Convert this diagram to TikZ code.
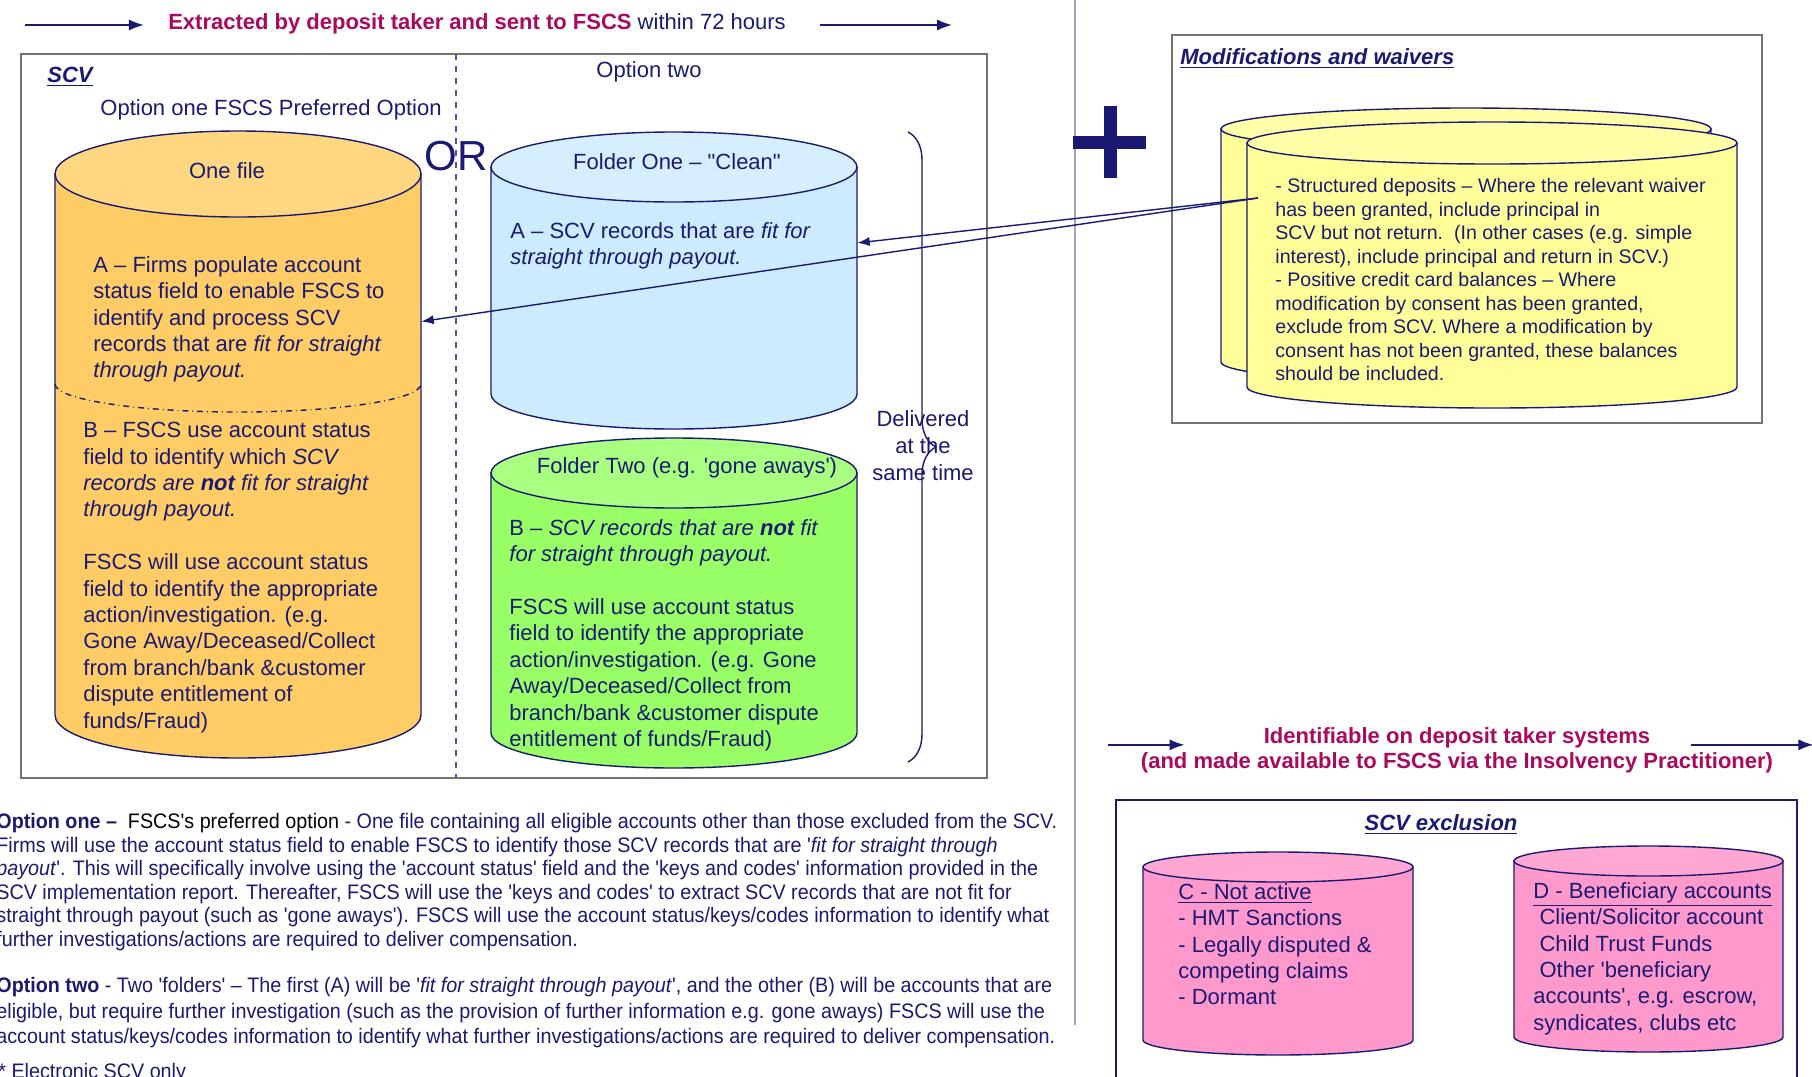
\documentclass[tikz,border=0pt]{standalone}
\usepackage{fontspec}
\setmainfont{Liberation Sans}[Ligatures=TeXOff]
\newfontfamily\narrowfont{Liberation Sans}[FakeStretch=0.94, Ligatures=TeXOff]
\usetikzlibrary{positioning, arrows.meta, calc, fit}
\usetikzlibrary{decorations.pathreplacing}
\definecolor{navy}{HTML}{1A1A73}
\definecolor{plum}{HTML}{AA0A5E}
\definecolor{orangebody}{HTML}{FFCC66}
\definecolor{orangetop}{HTML}{FFD780}
\definecolor{bluebody}{HTML}{CCEBFF}
\definecolor{bluetop}{HTML}{D6EFFF}
\definecolor{greenbody}{HTML}{99FF66}
\definecolor{greentop}{HTML}{A8FF80}
\definecolor{yellowbody}{HTML}{FFFF99}
\definecolor{yellowtop}{HTML}{FFFFA8}
\definecolor{pinkbody}{HTML}{FF99CC}
\definecolor{pinktop}{HTML}{FFA6D3}
% drum: name, left x, right x, top y, bottom y, ry, body fill, top fill
\newcommand{\drum}[8]{%
  \filldraw[drumline, fill=#7] (#2,-#4) -- (#2,-#5)
    arc[start angle=180, end angle=360, x radius={(#3-#2)/2}, y radius=#6]
    -- (#3,-#4) -- cycle;
  \filldraw[drumline, fill=#8] ({(#2+#3)/2},-#4) ellipse[x radius={(#3-#2)/2}, y radius=#6];
  \node[fit={(#2,-#4) (#3,-#5)}, inner sep=0pt] (#1) {};}

\begin{document}
\begin{tikzpicture}[x=0.5pt, y=0.5pt, >=Latex,
    drumline/.style={draw=navy, line width=0.7pt},
    txt/.style={inner sep=0pt, align=left, anchor=north west, text=navy,
                font=\fontsize{11}{13.2}\selectfont},
    label/.style={inner sep=0pt, text=navy, font=\fontsize{11}{13.2}\selectfont},
    head/.style={inner sep=0pt, text=navy, font=\fontsize{11}{13.2}\selectfont\bfseries\itshape},
    para/.style={inner sep=0pt, align=left, anchor=north west, text=navy,
                 font=\narrowfont\fontsize{10.5}{11.75}\selectfont},
    flow/.style={->, navy, line width=1pt},
    frame/.style={draw=black!55, line width=1pt}]
    \clip (0,0) rectangle (1812,-1077);
    \fill[white] (0,0) rectangle (1812,-1077);

    % left part: SCV
    \node[inner sep=0pt, font=\fontsize{11}{13}\selectfont] (title) at (477,-24)
        {\textcolor{plum}{\bfseries Extracted by deposit taker and sent to FSCS} \textcolor{navy}{within 72 hours}};
    \draw[flow] ($(title.west)+(-143,-1)$) -- ($(title.west)+(-24,-1)$);
    \draw[flow] ($(title.east)+(34,-1)$) -- ($(title.east)+(166,-1)$);

    \draw[frame] (21,-54) rectangle (987,-778);
    \draw[navy!75, dashed, line width=1.1pt] (456,-54) -- (456,-778);
    \node[head, anchor=west] (scvlbl) at (47,-77) {\underline{SCV}};
    \node[label] (opttwo) at (649,-72) {Option two};
    \node[label] (optone) at (271,-110) {Option one FSCS Preferred Option};
    \node[label, font=\fontsize{21}{24}\selectfont] (orlbl) at (456,-156) {OR};

    \drum{onefile}{55}{421}{174}{715}{43}{orangebody}{orangetop}
    \node[label] (onefilelbl) at (227,-171) {One file};
    \draw[navy, dash dot, line width=0.7pt] (55,-384) arc[start angle=180, end angle=360, x radius=183, y radius=28];
    \node[txt] (orangeA) at (93,-256) {A – Firms populate account\\ status field to enable FSCS to\\
        identify and process SCV\\ records that are \textit{fit for straight}\\ \textit{through payout.}};
    \node[txt] (orangeB) at (83,-422) {B – FSCS use account status\\ field to identify which \textit{SCV}\\
        \textit{records are \textbf{not} fit for straight}\\ \textit{through payout.}\\[13.2pt]
        FSCS will use account status\\ field to identify the appropriate\\ action/investigation. (e.g.\\
        Gone Away/Deceased/Collect\\ from branch/bank \&customer\\ dispute entitlement of\\ funds/Fraud)};

    \drum{folderone}{491}{857}{167}{394}{35}{bluebody}{bluetop}
    \node[label] (folderonelbl) at (677,-162) {Folder One – "Clean"};
    \node[txt] (blueA) at (510,-222) {A – SCV records that are \textit{fit for}\\ \textit{straight through payout.}};

    \drum{foldertwo}{491}{857}{473}{733}{35}{greenbody}{greentop}
    \node[label] (foldertwolbl) at (687,-468) {Folder Two (e.g. 'gone aways')};
    \node[txt] (greenB) at (509,-519) {B – \textit{SCV records that are \textbf{not} fit}\\ \textit{for straight through payout.}\\[13.2pt]
        FSCS will use account status\\ field to identify the appropriate\\ action/investigation. (e.g. Gone\\
        Away/Deceased/Collect from\\ branch/bank \&customer dispute\\ entitlement of funds/Fraud)};

    \draw[navy, line width=0.7pt, decorate, decoration={brace, amplitude=14pt}] (908,-132) -- (908,-762);
    \node[label, align=center, font=\fontsize{11}{13.5}\selectfont] (delivered) at (923,-446) {Delivered\\ at the\\ same time};

    % right part
    \draw[navy!40, line width=1pt] (1075,0) -- (1075,-1025);
    \draw[navy, line width=6.5pt] (1073,-142) -- (1146,-142) (1110,-106) -- (1110,-178);

    \draw[frame] (1172,-35) rectangle (1762,-423);
    \node[head, anchor=west] (modlbl) at (1180,-59) {\underline{Modifications and waivers}};
    \drum{waiverback}{1221}{1711}{129}{362}{21}{yellowbody}{yellowtop}
    \drum{waiverfront}{1247}{1737}{143}{387}{21}{yellowbody}{yellowtop}
    \node[txt, font=\fontsize{9.8}{11.75}\selectfont] (waivers) at (1275,-178)
        {- Structured deposits – Where the relevant waiver\\ has been granted, include principal in\\
        SCV but not return.\ \ (In other cases (e.g. simple\\ interest), include principal and return in SCV.)\\
        - Positive credit card balances – Where\\ modification by consent has been granted,\\
        exclude from SCV. Where a modification by\\ consent has not been granted, these balances\\ should be included.};
    \coordinate (waiversrc) at ($(waivers.north west)+(-17,-20)$);
    \draw[->, navy, line width=0.7pt] (waiversrc) -- ($(folderone.north east)!0.335!(folderone.south east)$);
    \draw[->, navy, line width=0.7pt] (waiversrc) -- ($(onefile.north east)!0.273!(onefile.south east)$);

    \node[inner sep=0pt, align=center, text=plum, font=\fontsize{11}{12.5}\selectfont\bfseries] (excltitle) at (1457,-750)
        {Identifiable on deposit taker systems\\ (and made available to FSCS via the Insolvency Practitioner)};
    \draw[flow] ($(excltitle.north west)+(-33,-18)$) -- ($(excltitle.north west)+(44,-18)$);
    \draw[flow] ($(excltitle.north east)+(-82,-18)$) -- ($(excltitle.north east)+(40,-18)$);

    \draw[navy, line width=1pt] (1116,-800) rectangle (1797,-1120);
    \node[head] (excllbl) at (1441,-825) {\underline{SCV exclusion}};
    \drum{notactive}{1143}{1413}{867}{1040}{15}{pinkbody}{pinktop}
    \node[txt] (notactivetxt) at (1178,-883) {\underline{C - Not active}\\ - HMT Sanctions\\
        - Legally disputed \&\\ competing claims\\ - Dormant};
    \drum{beneficiary}{1514}{1783}{861}{1037}{15}{pinkbody}{pinktop}
    \node[txt] (beneficiarytxt) at (1533,-882) {\underline{D - Beneficiary accounts}\\ \ Client/Solicitor account\\
        \ Child Trust Funds\\ \ Other 'beneficiary\\ accounts', e.g. escrow,\\ syndicates, clubs etc};

    % notes below
    \node[para] (optonetext) at (-4,-813) {\textbf{Option one –} \ \textcolor{black}{FSCS's preferred option} - One file containing all eligible accounts other than those excluded from the SCV.\\
        Firms will use the account status field to enable FSCS to identify those SCV records that are '\textit{fit for straight through}\\
        \textit{payout}'. This will specifically involve using the 'account status' field and the 'keys and codes' information provided in the\\
        SCV implementation report. Thereafter, FSCS will use the 'keys and codes' to extract SCV records that are not fit for\\
        straight through payout (such as 'gone aways'). FSCS will use the account status/keys/codes information to identify what\\
        further investigations/actions are required to deliver compensation.};
    \node[para, font=\narrowfont\fontsize{10.5}{12.7}\selectfont] (opttwotext) at (-4,-977) {\textbf{Option two} - Two 'folders' – The first (A) will be '\textit{fit for straight through payout}', and the other (B) will be accounts that are\\
        eligible, but require further investigation (such as the provision of further information e.g. gone aways) FSCS will use the\\
        account status/keys/codes information to identify what further investigations/actions are required to deliver compensation.};
    \node[para] (footnote) at (-2,-1063) {* Electronic SCV only};
\end{tikzpicture}
\end{document}
